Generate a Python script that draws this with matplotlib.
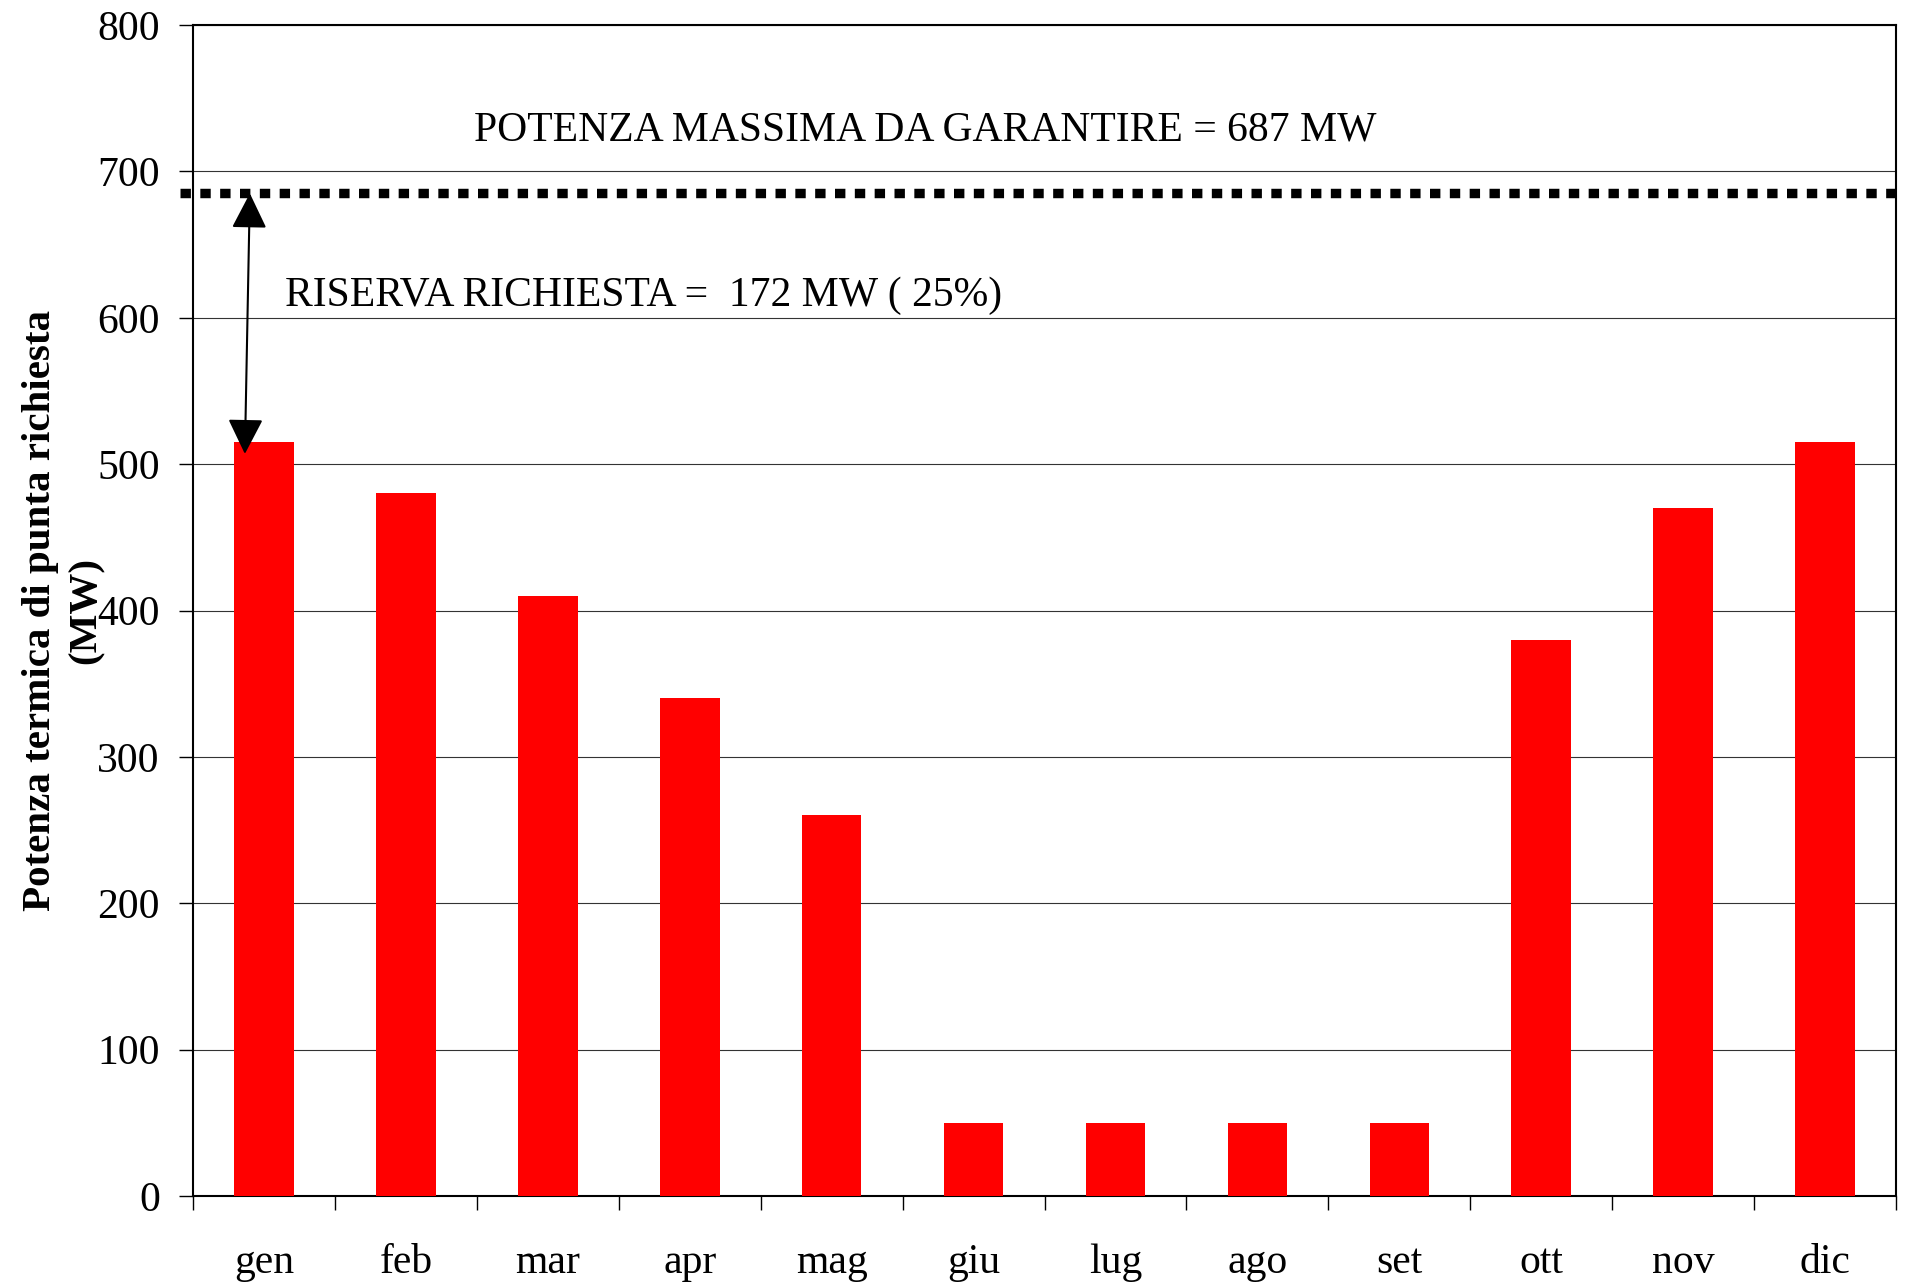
import numpy as np
import matplotlib
matplotlib.use("Agg")
import matplotlib.pyplot as plt

# monthly peak thermal demand (MW)
months = ["gen", "feb", "mar", "apr", "mag", "giu", "lug", "ago", "set", "ott", "nov", "dic"]
peak_mw = [515, 480, 410, 340, 260, 50, 50, 50, 50, 380, 470, 515]
max_power = 687
max_line = 685   # where the dotted line sits in the picture
reserve = 172
y_ticks = [0, 100, 200, 300, 400, 500, 600, 700, 800]

plt.rcParams["font.family"] = ["Liberation Serif", "DejaVu Serif"]

fig = plt.figure(figsize=(19.08, 12.84), dpi=100)
ax = fig.add_axes([0.1012, 0.0685, 0.8925, 0.912])

x = np.arange(len(months))
ax.bar(x, peak_mw, width=0.42, color="#ff0000", zorder=3)

ax.set_xlim(-0.5, len(months) - 0.5)
ax.set_ylim(0, 800)
ax.set_yticks(y_ticks)
ax.yaxis.grid(True, color="#333333", lw=0.8, zorder=0)

# category boundary ticks on x, labels in the middle
ax.set_xticks(np.arange(-0.5, len(months)), minor=False)
ax.set_xticklabels([])
ax.set_xticks(x, minor=True)
ax.set_xticklabels(months, minor=True)
ax.tick_params(axis="x", which="major", length=10, width=1, direction="out")
ax.tick_params(axis="x", which="minor", length=0, pad=34, labelsize=30)
ax.tick_params(axis="y", length=10, width=1, direction="out", pad=14, labelsize=30)

for s in ax.spines.values():
    s.set_color("black")
    s.set_linewidth(1.5)

# max power line
ax.plot([-0.59, len(months) - 0.5], [max_line, max_line], color="black",
        lw=6.8, linestyle=(0, (1.1, 1.0)), dash_capstyle="butt", clip_on=False, zorder=4)

# reserve arrow
ax.annotate("", xy=(-0.135, peak_mw[0] - 8), xytext=(-0.1, max_line),
            arrowprops=dict(arrowstyle="<|-|>,head_length=1.1,head_width=0.55",
                            color="black", lw=1.5, shrinkA=0, shrinkB=0,
                            mutation_scale=20), zorder=5)

ax.text(4.66, 728, "POTENZA MASSIMA DA GARANTIRE = %d MW" % max_power,
        ha="center", va="center", fontsize=30)
ax.text(0.15, 615, "RISERVA RICHIESTA =  %d MW ( 25%%)" % reserve,
        ha="left", va="center", fontsize=30)

ax.set_ylabel("Potenza termica di punta richiesta\n(MW)", fontsize=29.5,
              fontweight="bold", linespacing=1.3)
ax.yaxis.set_label_coords(-0.052, 0.5)

fig.savefig("out.png", dpi=100)
